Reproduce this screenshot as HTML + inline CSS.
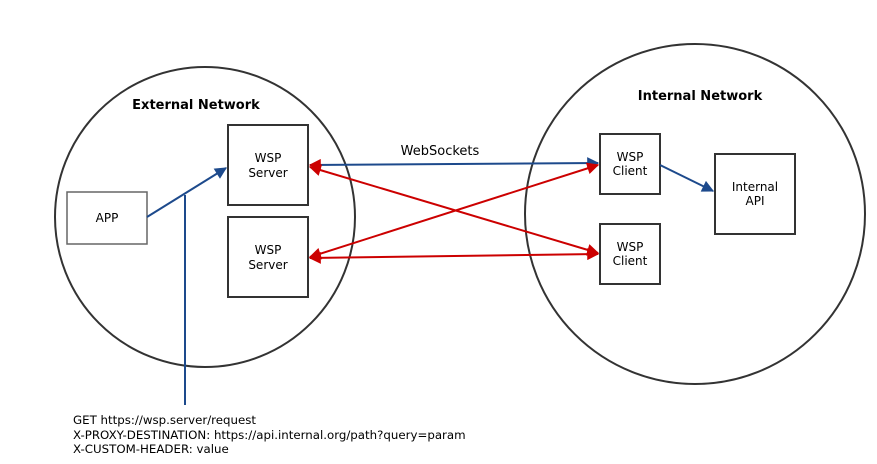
<!DOCTYPE html>
<html><head><style>body{margin:0;background:#fff}svg{display:block}</style></head><body>
<svg width="877" height="464" viewBox="0 0 877 464" xmlns="http://www.w3.org/2000/svg" font-family="DejaVu Sans, sans-serif">
<defs>
<marker id="b" viewBox="0 0 10 10" refX="9" refY="5" markerWidth="13" markerHeight="12" orient="auto-start-reverse" markerUnits="userSpaceOnUse"><path d="M0,0L10,5L0,10z" fill="#1d4a8c"/></marker>
<marker id="r" viewBox="0 0 10 10" refX="9" refY="5" markerWidth="13" markerHeight="12" orient="auto-start-reverse" markerUnits="userSpaceOnUse"><path d="M0,0L10,5L0,10z" fill="#cc0000"/></marker>
</defs>
<circle cx="205" cy="217" r="150" fill="none" stroke="#333" stroke-width="2"/>
<circle cx="695" cy="214" r="170" fill="none" stroke="#333" stroke-width="2"/>
<text x="196" y="109" font-size="13" font-weight="bold" text-anchor="middle">External Network</text>
<text x="700" y="100" font-size="13" font-weight="bold" text-anchor="middle">Internal Network</text>
<rect x="67" y="192" width="80" height="52" fill="#fff" stroke="#666" stroke-width="1.5"/>
<text x="107" y="222" font-size="12" text-anchor="middle">APP</text>
<rect x="228" y="125" width="80" height="80" fill="#fff" stroke="#333" stroke-width="2"/>
<text x="268" y="162" font-size="12" text-anchor="middle">WSP</text><text x="268" y="177" font-size="12" text-anchor="middle">Server</text>
<rect x="228" y="217" width="80" height="80" fill="#fff" stroke="#333" stroke-width="2"/>
<text x="268" y="254" font-size="12" text-anchor="middle">WSP</text><text x="268" y="269" font-size="12" text-anchor="middle">Server</text>
<rect x="600" y="134" width="60" height="60" fill="#fff" stroke="#333" stroke-width="2"/>
<text x="630" y="161" font-size="12" text-anchor="middle">WSP</text><text x="630" y="175" font-size="12" text-anchor="middle">Client</text>
<rect x="600" y="224" width="60" height="60" fill="#fff" stroke="#333" stroke-width="2"/>
<text x="630" y="251" font-size="12" text-anchor="middle">WSP</text><text x="630" y="265" font-size="12" text-anchor="middle">Client</text>
<rect x="715" y="154" width="80" height="80" fill="#fff" stroke="#333" stroke-width="2"/>
<text x="755" y="191" font-size="12" text-anchor="middle">Internal</text><text x="755" y="205" font-size="12" text-anchor="middle">API</text>
<text x="440" y="155" font-size="13" text-anchor="middle">WebSockets</text>
<g stroke-width="2" fill="none">
<line x1="185" y1="195" x2="185" y2="405" stroke="#1d4a8c"/>
<line x1="147" y1="217" x2="226" y2="168" stroke="#1d4a8c" marker-end="url(#b)"/>
<line x1="310" y1="165" x2="598" y2="163" stroke="#1d4a8c" marker-start="url(#r)" marker-end="url(#b)"/>
<line x1="310" y1="167" x2="598" y2="253" stroke="#cc0000" marker-start="url(#r)" marker-end="url(#r)"/>
<line x1="310" y1="257" x2="598" y2="165" stroke="#cc0000" marker-start="url(#r)" marker-end="url(#r)"/>
<line x1="310" y1="258" x2="598" y2="254" stroke="#cc0000" marker-start="url(#r)" marker-end="url(#r)"/>
<line x1="660" y1="165" x2="713" y2="191" stroke="#1d4a8c" marker-end="url(#b)"/>
</g>
<g font-size="11.8"><text x="73" y="424">GET https://wsp.server/request</text>
<text x="73" y="439">X-PROXY-DESTINATION: https://api.internal.org/path?query=param</text>
<text x="73" y="453">X-CUSTOM-HEADER: value</text></g>
</svg>
</body></html>
